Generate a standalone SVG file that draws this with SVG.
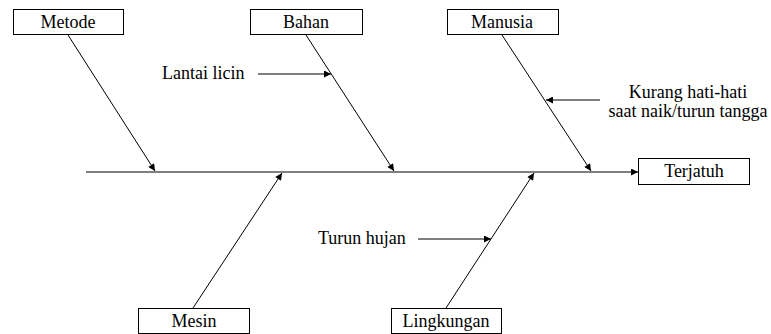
<svg xmlns="http://www.w3.org/2000/svg" width="771" height="334" viewBox="0 0 771 334">
<style>
.box{fill:#fff;stroke:#000;stroke-width:1}
.t{font-family:'Liberation Serif','Times New Roman',serif;font-size:18px;fill:#000}
.c{text-anchor:middle}
.ln{stroke:#000;stroke-width:1;fill:none;marker-end:url(#ah)}
</style>
<defs>
<marker id="ah" viewBox="0 0 10 10" refX="10" refY="5" markerWidth="9" markerHeight="7" markerUnits="userSpaceOnUse" orient="auto">
<path d="M0,0 L10,5 L0,10 z" fill="#000"/>
</marker>
</defs>
<rect width="771" height="334" fill="#fff"/>
<g id="connectors">
<line class="ln" x1="86" y1="172" x2="638" y2="172"/>
<line class="ln" x1="68" y1="35" x2="155" y2="171"/>
<line class="ln" x1="306" y1="35" x2="394" y2="171"/>
<line class="ln" x1="502" y1="35" x2="591" y2="171"/>
<line class="ln" x1="193" y1="308" x2="282" y2="173"/>
<line class="ln" x1="446" y1="308" x2="534" y2="173"/>
<line class="ln" x1="258" y1="74" x2="331" y2="74"/>
<line class="ln" x1="600" y1="100" x2="546" y2="100"/>
<line class="ln" x1="418" y1="239" x2="491" y2="239"/>
</g>
<g id="metode"><rect class="box" x="13.5" y="9.5" width="110" height="25"/><text class="t c" x="68" y="28">Metode</text></g>
<g id="bahan"><rect class="box" x="250.5" y="9.5" width="112" height="25"/><text class="t c" x="306" y="28">Bahan</text></g>
<g id="manusia"><rect class="box" x="447.5" y="9.5" width="111" height="25"/><text class="t c" x="502" y="28">Manusia</text></g>
<g id="terjatuh"><rect class="box" x="638.5" y="158.5" width="111" height="26"/><text class="t c" x="694" y="177">Terjatuh</text></g>
<g id="mesin"><rect class="box" x="138.5" y="308.5" width="111" height="25"/><text class="t c" x="194" y="327">Mesin</text></g>
<g id="lingkungan"><rect class="box" x="391.5" y="308.5" width="110" height="25"/><text class="t c" x="446" y="327">Lingkungan</text></g>
<g id="lantai-licin"><text class="t" x="162" y="79">Lantai licin</text></g>
<g id="kurang-hati-hati"><text class="t c" x="688" y="98">Kurang hati-hati</text><text class="t c" x="688" y="117">saat naik/turun tangga</text></g>
<g id="turun-hujan"><text class="t" x="318" y="244">Turun hujan</text></g>
</svg>
